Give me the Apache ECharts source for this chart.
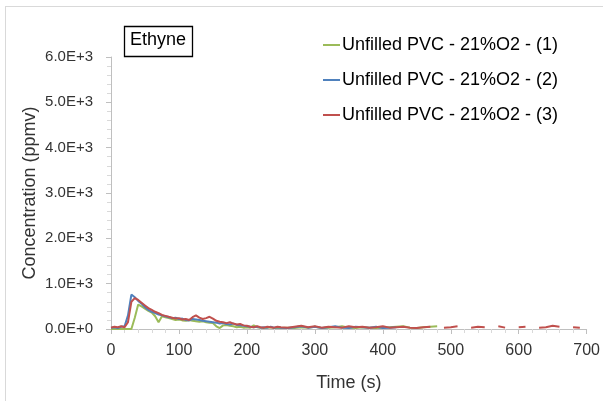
<!DOCTYPE html>
<html>
<head>
<meta charset="utf-8">
<script src="https://cdn.jsdelivr.net/npm/echarts@6/dist/echarts.min.js"></script>
<style>html,body{margin:0;padding:0;background:#fff}#c{width:603px;height:401px}</style>
</head>
<body>
<div id="c"></div>
<script>
// time (s)
var times = [0,5,10,15,20,25,30,35,40,45,50,55,60,65,70,75,80,85,90,95,100,105,110,115,120,125,130,135,140,145,150,155,160,165,170,175,180,185,190,195,200,205,210,215,220,225,230,235,240,245,250,
  260,270,280,290,300,310,320,330,340,350,360,370,380,390,400,410,420,430,440,450,460,470,480,490,500,510,520,530,540,550,560,570,580,590,600,610,620,630,640,650,660,670,680,690,700];
var seriesNames = ['Unfilled PVC - 21%O2 - (1)','Unfilled PVC - 21%O2 - (2)','Unfilled PVC - 21%O2 - (3)'];
var run1 = [0,0,0,0,0,0,0,250,540,500,450,400,360,280,150,280,260,240,220,200,210,190,180,200,180,170,160,170,150,140,130,60,20,80,90,70,60,40,50,30,40,30,80,40,30,20,30,40,20,30,20,
  30,20,40,30,50,20,30,40,60,30,20,40,30,20,30,40,50,60,30,20,40,50,60,
  null,null,null,null,null,null,null,null,null,null,null,null,null,null,null,null,null,null,null,null,null,null];
var run2 = [30,40,20,50,60,300,760,700,620,560,480,420,380,350,320,300,280,260,240,250,220,230,200,190,220,210,200,180,170,160,150,140,120,130,110,100,120,90,80,70,60,50,40,50,30,40,30,50,30,40,30,
  20,40,60,30,50,20,40,60,30,20,50,40,30,50,20,30,40,
  null,null,null,null,null,null,null,null,null,null,null,null,null,null,null,null,null,null,null,null,null,null,null,null,null,null,null,null];
var run3 = [30,50,40,60,40,150,600,680,640,580,520,460,420,380,350,310,290,270,250,230,240,210,220,200,260,300,250,220,240,270,230,180,160,150,130,150,120,100,110,80,70,50,40,60,40,30,50,40,30,50,40,
  30,50,70,40,60,30,50,40,30,60,40,50,30,40,60,30,40,50,30,20,40,50,
  null,30,40,60,null,30,50,40,null,60,30,null,40,50,null,30,40,70,50,null,40,30,null];
var yTicks = ['0.0E+0','1.0E+3','2.0E+3','3.0E+3','4.0E+3','5.0E+3','6.0E+3'];

var FONT = 'Liberation Sans';
var TXT = '#333333';
function pairs(arr){ return times.map(function(t,i){ return [t, arr[i]]; }); }
var colors = ['#9bbb59','#4f81bd','#c0504d'];
var runs = [run1, run2, run3];

var chart = echarts.init(document.getElementById('c'), null, {renderer:'canvas'});
chart.setOption({
  animation:false,
  backgroundColor:'#fff',
  textStyle:{fontFamily:FONT},
  grid:{left:111,right:16,top:57,bottom:72,containLabel:false},
  legend:{
    orient:'vertical', left:318, top:30, itemGap:15,
    itemWidth:17, itemHeight:2, icon:'rect',
    textStyle:{fontFamily:FONT,fontSize:18,lineHeight:20,color:'#000',padding:[0,0,0,-3]},
    data:seriesNames
  },
  xAxis:{
    type:'value', min:0, max:700, interval:100,
    name:'Time (s)', nameLocation:'middle', nameGap:45, nameMoveOverlap:false,
    nameTextStyle:{fontFamily:FONT,fontSize:18,color:TXT},
    axisLine:{lineStyle:{color:'#bfbfbf'}},
    axisTick:{show:true,length:5,lineStyle:{color:'#bfbfbf'}},
    minorTick:{show:true,splitNumber:5,length:4,lineStyle:{color:'#d9d9d9'}},
    axisLabel:{fontFamily:FONT,fontSize:16,color:TXT,margin:14},
    splitLine:{show:false}
  },
  yAxis:{
    type:'value', min:0, max:6000, interval:1000,
    name:'Concentration (ppmv)', nameLocation:'middle', nameGap:72, nameMoveOverlap:false,
    nameTextStyle:{fontFamily:FONT,fontSize:18,color:TXT},
    axisLine:{show:true,lineStyle:{color:'#bfbfbf'}},
    axisTick:{show:true,length:5,lineStyle:{color:'#bfbfbf'}},
    minorTick:{show:true,splitNumber:5,length:4,lineStyle:{color:'#d9d9d9'}},
    axisLabel:{fontFamily:FONT,fontSize:15,color:TXT,margin:18,
      formatter:function(v){ return yTicks[Math.round(v/1000)]; }},
    splitLine:{show:false}
  },
  graphic:[
    {type:'line',shape:{x1:5,y1:6.5,x2:603,y2:6.5},style:{stroke:'#d9d9d9',lineWidth:1}},
    {type:'line',shape:{x1:5.5,y1:6,x2:5.5,y2:401},style:{stroke:'#d9d9d9',lineWidth:1}},
    {type:'rect',shape:{x:124.5,y:26.5,width:68,height:30},style:{fill:'#fff',stroke:'#000',lineWidth:1.3}},
    {type:'text',left:130,top:31,style:{text:'Ethyne',font:'18px "Liberation Sans"',fill:'#000'}}
  ],
  series: runs.map(function(r,i){
    return {
      name:seriesNames[i], type:'line', data:pairs(r),
      showSymbol:false, symbol:'none', connectNulls:false,
      lineStyle:{color:colors[i],width:2},
      itemStyle:{color:colors[i]}, z:2+i
    };
  })
});
</script>
</body>
</html>
